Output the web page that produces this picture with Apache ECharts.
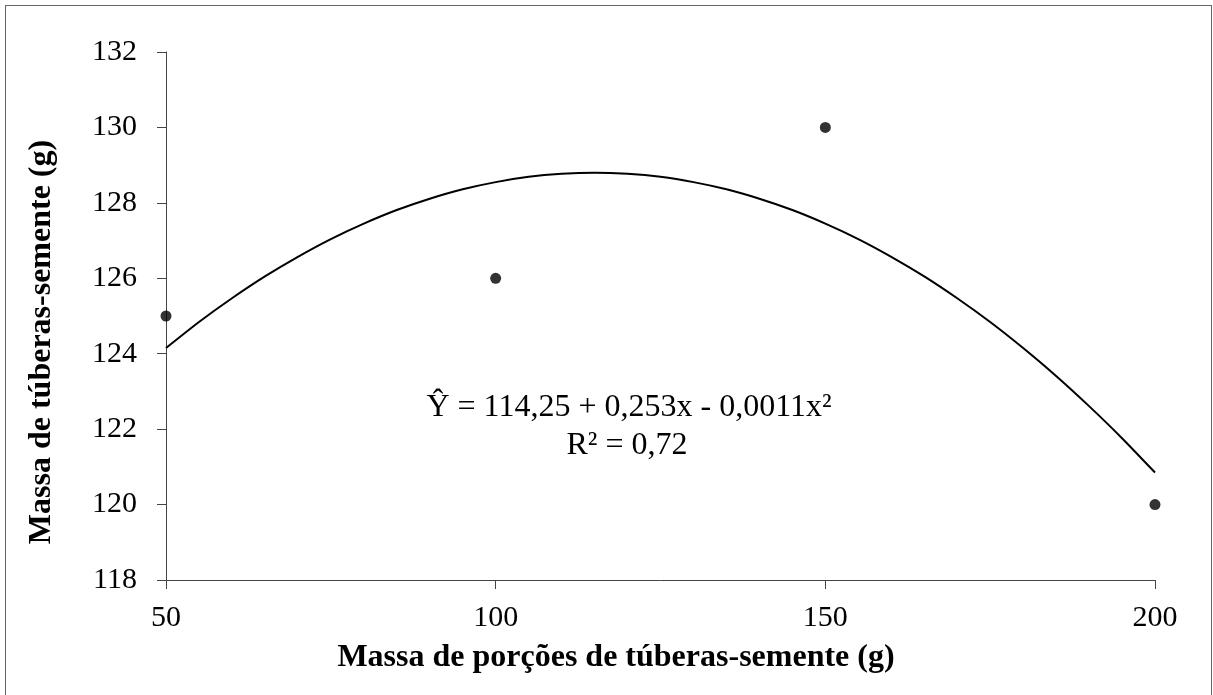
<!DOCTYPE html>
<html>
<head>
<meta charset="utf-8">
<script src="https://cdn.jsdelivr.net/npm/echarts@6/dist/echarts.min.js"></script>
<style>
html,body{margin:0;padding:0;background:#fff;}
#frame{position:absolute;left:5px;top:5px;width:1207px;height:720px;border:1px solid #666;box-sizing:border-box;}
#chart{position:absolute;left:0;top:0;width:1213px;height:695px;}
</style>
</head>
<body>
<div id="frame"></div>
<div id="chart"></div>
<script>
// Observed points
const obsX = [50, 100, 150, 200];
const obsY = [125, 126, 130, 120];
// Fitted curve
const curveX = [50, 55, 60, 65, 70, 75, 80, 85, 90, 95, 100, 105, 110, 115, 120, 125, 130, 135, 140, 145, 150, 155, 160, 165, 170, 175, 180, 185, 190, 195, 200];
const curveY = [124.15, 124.84, 125.47, 126.05, 126.57, 127.04, 127.45, 127.81, 128.11, 128.36, 128.55, 128.69, 128.77, 128.80, 128.77, 128.69, 128.55, 128.36, 128.11, 127.81, 127.45, 127.04, 126.57, 126.05, 125.47, 124.84, 124.15, 123.41, 122.61, 121.76, 120.85];
const xTicks = [50, 100, 150, 200];
const yTicks = [118, 120, 122, 124, 126, 128, 130, 132];
const xTitle = 'Massa de porções de túberas-semente (g)';
const yTitle = 'Massa de túberas-semente (g)';
const eqLine1 = 'Ŷ = 114,25 + 0,253x - 0,0011x²';
const eqLine2 = 'R² = 0,72';

const FONT = '"Liberation Serif", "Times New Roman", serif';
const chart = echarts.init(document.getElementById('chart'), null, {renderer: 'canvas'});
chart.setOption({
  backgroundColor: 'transparent',
  animation: false,
  grid: {left: 166, right: 58, top: 52, bottom: 115, containLabel: false},
  xAxis: {
    type: 'value', min: xTicks[0], max: xTicks[xTicks.length - 1], interval: 50,
    axisLine: {show: true, lineStyle: {color: '#444', width: 1}},
    axisTick: {show: true, length: 9, lineStyle: {color: '#444'}},
    splitLine: {show: false},
    axisLabel: {color: '#000', fontFamily: FONT, fontSize: 30, margin: 23}
  },
  yAxis: {
    type: 'value', min: yTicks[0], max: yTicks[yTicks.length - 1], interval: 2,
    axisLine: {show: true, lineStyle: {color: '#444', width: 1}},
    axisTick: {show: true, length: 9, lineStyle: {color: '#444'}},
    splitLine: {show: false},
    axisLabel: {color: '#000', fontFamily: FONT, fontSize: 30, margin: 29}
  },
  graphic: [
    {type: 'text', x: 616, y: 658, style: {text: xTitle, fontFamily: FONT, fontSize: 32, fontWeight: 'bold', fill: '#000', align: 'center', verticalAlign: 'middle'}},
    {type: 'text', x: 42, y: 342, rotation: Math.PI / 2, style: {text: yTitle, fontFamily: FONT, fontSize: 32, fontWeight: 'bold', fill: '#000', align: 'center', verticalAlign: 'middle'}},
    {type: 'text', x: 629, y: 408, style: {text: eqLine1, fontFamily: FONT, fontSize: 32, fill: '#000', align: 'center', verticalAlign: 'middle'}},
    {type: 'text', x: 627, y: 446, style: {text: eqLine2, fontFamily: FONT, fontSize: 32, fill: '#000', align: 'center', verticalAlign: 'middle'}}
  ],
  series: [
    {
      type: 'line', data: curveX.map((x, i) => [x, curveY[i]]),
      smooth: 0.2, showSymbol: false, lineStyle: {color: '#000', width: 2}, z: 2
    },
    {
      type: 'scatter', data: obsX.map((x, i) => [x, obsY[i]]),
      symbol: 'circle', symbolSize: 11, itemStyle: {color: '#000'}, z: 3
    }
  ]
});
</script>
</body>
</html>
